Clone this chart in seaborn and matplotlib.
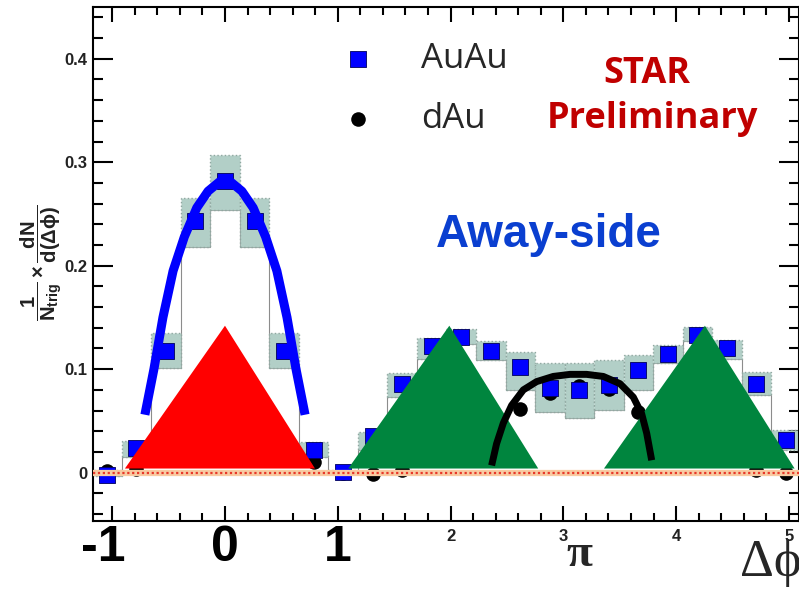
import matplotlib
matplotlib.use("Agg")
import matplotlib.pyplot as plt
import matplotlib.transforms as mtransforms
from matplotlib.ticker import MultipleLocator, FuncFormatter
import numpy as np
import seaborn as sns

# --- data ------------------------------------------------------------------
BIN_WIDTH = 0.262
dphi = [-1.047, -0.785, -0.524, -0.262, 0.0, 0.262, 0.524, 0.785,
        1.047, 1.309, 1.571, 1.833, 2.094, 2.356, 2.618, 2.880,
        3.142, 3.403, 3.665, 3.927, 4.189, 4.451, 4.712, 4.974]
auau = [-0.002, 0.024, 0.118, 0.243, 0.282, 0.243, 0.118, 0.022,
        0.001, 0.035, 0.086, 0.122, 0.131, 0.118, 0.102, 0.082,
        0.080, 0.085, 0.099, 0.115, 0.133, 0.120, 0.086, 0.032]
auau_sys_lo = [-0.003, 0.015, 0.101, 0.218, 0.254, 0.218, 0.101, 0.015,
               -0.001, 0.022, 0.073, 0.110, 0.124, 0.109, 0.080, 0.059,
               0.0525, 0.0605, 0.080, 0.106, 0.127, 0.110, 0.075, 0.022]
auau_sys_hi = [0.003, 0.031, 0.135, 0.265, 0.307, 0.265, 0.135, 0.030,
               0.003, 0.039, 0.096, 0.130, 0.139, 0.127, 0.117, 0.106,
               0.106, 0.109, 0.114, 0.123, 0.141, 0.128, 0.0975, 0.041]
# dAu points that are visible (the rest are hidden under the overlays)
dau = [0.002, 0.004, np.nan, np.nan, np.nan, np.nan, np.nan, 0.010,
       0.000, -0.001, 0.003, np.nan, np.nan, np.nan, 0.062, 0.077,
       0.084, 0.081, 0.059, np.nan, np.nan, np.nan, 0.003, 0.000]

near_fit_x = [-0.71, -0.63, -0.55, -0.46, -0.36, -0.25, -0.15, -0.05, 0.0,
              0.05, 0.15, 0.25, 0.36, 0.46, 0.55, 0.63, 0.71]
near_fit_y = [0.056, 0.100, 0.150, 0.195, 0.228, 0.256, 0.272, 0.281, 0.283,
              0.281, 0.272, 0.256, 0.228, 0.195, 0.150, 0.100, 0.056]
away_fit_x = [2.364, 2.408, 2.468, 2.541, 2.645, 2.763, 2.910, 3.059,
              3.206, 3.354, 3.502, 3.620, 3.694, 3.739, 3.783]
away_fit_y = [0.007, 0.028, 0.048, 0.065, 0.080, 0.088, 0.093, 0.095,
              0.095, 0.093, 0.086, 0.073, 0.057, 0.038, 0.012]

tri_red_x = [-0.887, 0.0, 0.798]
tri_green1_x = [1.093, 1.989, 2.777]
tri_green2_x = [3.360, 4.255, 5.050]
tri_y = [0.004, 0.142, 0.004]

# --- styling ----------------------------------------------------------------
sns.set_theme(style="ticks")
plt.rcParams["font.family"] = ["Liberation Sans", "DejaVu Sans"]
plt.rcParams["mathtext.fontset"] = "custom"
plt.rcParams["mathtext.rm"] = "Liberation Sans"
plt.rcParams["mathtext.bf"] = "Liberation Sans:bold"
plt.rcParams["mathtext.it"] = "Liberation Sans:italic"
plt.rcParams["mathtext.default"] = "bf"

fig = plt.figure(figsize=(7.99, 5.90), dpi=100)
ax = fig.add_axes([93 / 799, 1 - 521 / 590, 706 / 799, 514 / 590])
ax.set_xlim(-1.17, 5.089)
ax.set_ylim(-0.0467, 0.45)

# systematic boxes + thin step outline
lo = np.array(auau_sys_lo)
hi = np.array(auau_sys_hi)
ax.step(dphi, lo, where="mid", color="#8c8c8c", lw=0.8, zorder=0.9)
ax.bar(dphi, hi - lo, bottom=lo, width=BIN_WIDTH, color="#b2cfc7",
       edgecolor="#8fa7a0", linestyle=":", linewidth=1.0, zorder=1)

sns.scatterplot(x=dphi, y=dau, marker="o", s=110, color="black",
                edgecolor="black", linewidth=0, zorder=2, label="dAu", ax=ax)
sns.scatterplot(x=dphi, y=auau, marker="s", s=140, color="#0000ff",
                edgecolor="#00005a", linewidth=0.6, zorder=3, label="AuAu", ax=ax)

ax.axhline(0, color="#f8cba2", lw=4.5, zorder=4)
ax.axhline(0, color="#e8382a", lw=1.6, ls=(0, (1, 1.2)), zorder=4.1)

ax.fill(tri_red_x, tri_y, color="#ff0000", lw=0, zorder=5, clip_on=False)
ax.fill(tri_green1_x, tri_y, color="#00853e", lw=0, zorder=5, clip_on=False)
ax.fill(tri_green2_x, tri_y, color="#00853e", lw=0, zorder=5, clip_on=False)

sns.lineplot(x=near_fit_x, y=near_fit_y, color="#0000ff", lw=6.5, sort=False,
             estimator=None, zorder=6, ax=ax, legend=False)
sns.lineplot(x=away_fit_x, y=away_fit_y, color="black", lw=5, sort=False,
             estimator=None, zorder=6, ax=ax, legend=False)
for ln in ax.lines[-2:]:
    ln.set_solid_capstyle("butt")

# axes / ticks in ROOT style
for sp in ax.spines.values():
    sp.set_linewidth(1.5)
    sp.set_color("black")
ax.xaxis.set_major_locator(MultipleLocator(1))
ax.xaxis.set_minor_locator(MultipleLocator(0.2))
ax.yaxis.set_major_locator(MultipleLocator(0.1))
ax.yaxis.set_minor_locator(MultipleLocator(0.02))
ax.tick_params(which="both", direction="in", top=True, right=True, width=1.5,
               color="black")
ax.tick_params(axis="x", which="major", length=10.8, pad=6)
ax.tick_params(axis="x", which="minor", length=5.8)
ax.tick_params(axis="y", which="major", length=14.4, pad=4)
ax.tick_params(axis="y", which="minor", length=7.2)
ax.xaxis.set_major_formatter(FuncFormatter(lambda v, p: "" if v < 1.5 else f"{v:.0f}"))
ax.yaxis.set_major_formatter(FuncFormatter(lambda v, p: "0" if abs(v) < 1e-9 else f"{v:.1f}"))
for lab in ax.get_xticklabels() + ax.get_yticklabels():
    lab.set_fontweight("bold")
    lab.set_fontsize(12)
    lab.set_color("#222222")
ax.set_xlabel("")
ax.set_ylabel("")

# big overlay labels on the x axis
bx = mtransforms.blended_transform_factory(ax.transData, ax.transAxes)
for xv, s in zip([-1.08, 0.0, 1.0], ["-1", "0", "1"]):
    ax.text(xv, -0.0525, s, transform=bx, ha="center", va="center",
            fontsize=36, fontweight="bold", color="black", clip_on=False)
ax.text(3.14, -0.066, "π", transform=bx, ha="center", va="center",
        family=["Liberation Serif", "DejaVu Serif"], fontsize=34,
        fontweight="bold", clip_on=False)
ax.text(4.566, -0.082, "Δϕ", transform=bx, ha="left", va="center",
        family=["Liberation Serif", "DejaVu Serif"], fontsize=38, clip_on=False)

fig.text(41 / 799, 1 - 263 / 590,
         r"$\dfrac{1}{N_{trig}}\times\dfrac{dN}{d(\Delta\phi)}$",
         rotation=90, ha="center", va="center", fontsize=14.5, color="#222222")

# legend
handles, labels = ax.get_legend_handles_labels()
order = [labels.index("AuAu"), labels.index("dAu")]
ax.legend([handles[i] for i in order], [labels[i] for i in order],
          loc="upper left", bbox_to_anchor=(0.3513, 0.932), frameon=False,
          borderpad=0, borderaxespad=0, handlelength=1.0, handletextpad=1.3,
          labelspacing=0.75, prop={"family": "Open Sans", "size": 25})

ax.text(0.785, 0.852, "STAR", transform=ax.transAxes, ha="center",
        va="baseline", family="Open Sans", fontweight="bold", fontsize=26,
        color="#c00000")
ax.text(0.793, 0.7646, "Preliminary", transform=ax.transAxes, ha="center",
        va="baseline", family="Open Sans", fontweight="bold", fontsize=26,
        color="#c00000")
ax.text(0.646, 0.533, "Away-side", transform=ax.transAxes, ha="center",
        va="baseline", fontweight="bold", fontsize=33, color="#0a3fd0")

fig.savefig("out.png", dpi=100)
plt.close(fig)
